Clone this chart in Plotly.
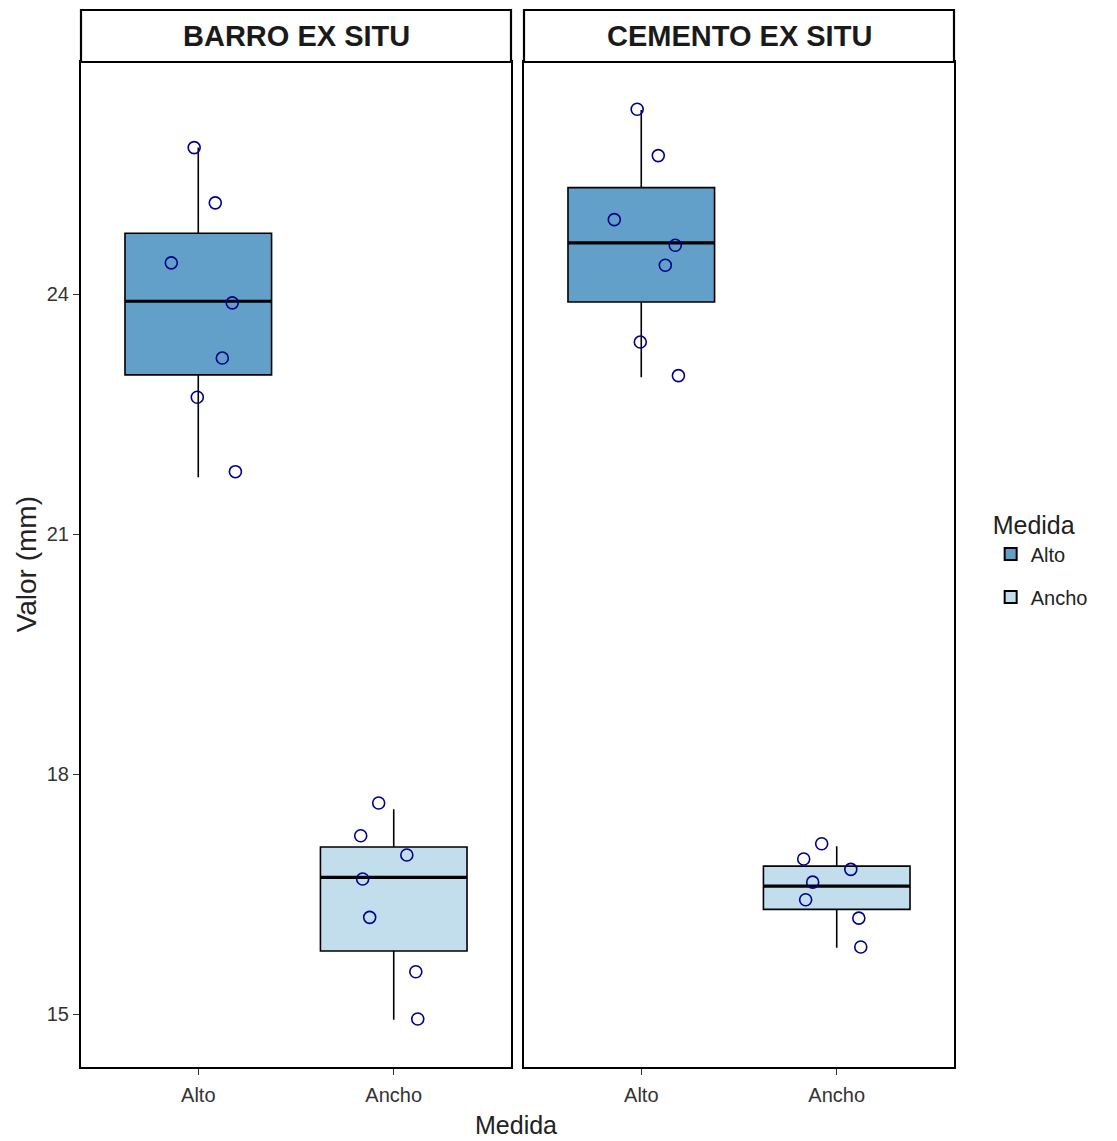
import plotly.graph_objects as go
from plotly.subplots import make_subplots

# ---------------- data ----------------
panels = ["BARRO EX SITU", "CEMENTO EX SITU"]
categories = ["Alto", "Ancho"]
cat_pos = [1, 2]

# observed points (mm) per panel, per category
barro_alto = [25.83, 25.14, 24.39, 23.89, 23.20, 22.71, 21.78]
barro_ancho = [17.64, 17.23, 16.99, 16.69, 16.21, 15.53, 14.94]
cemento_alto = [26.31, 25.73, 24.93, 24.61, 24.36, 23.40, 22.98]
cemento_ancho = [17.13, 16.94, 16.81, 16.65, 16.43, 16.20, 15.84]

# horizontal jitter offsets (category units)
jit_alto = [-0.021, 0.087, -0.138, 0.174, 0.123, -0.005, 0.19]
jit_ancho_barro = [-0.077, -0.169, 0.067, -0.159, -0.123, 0.113, 0.123]
jit_ancho_cemento = [-0.077, -0.169, 0.072, -0.123, -0.159, 0.113, 0.123]

# box statistics: [lower whisker, q1, median, q3, upper whisker]
box_barro_alto = [21.71, 22.99, 23.91, 24.76, 25.83]
box_barro_ancho = [14.93, 15.79, 16.71, 17.09, 17.56]
box_cemento_alto = [22.96, 23.90, 24.64, 25.33, 26.30]
box_cemento_ancho = [15.83, 16.31, 16.60, 16.85, 17.10]

y_ticks = [15, 18, 21, 24]

# ---------------- style ----------------
fill_colors = {"Alto": "#62A0CA", "Ancho": "#C2DDEB"}
point_color = "#00008B"
FONT = "Liberation Sans"
BOX_W = 0.75

fig = make_subplots(rows=1, cols=2, shared_yaxes=True, horizontal_spacing=13 / 873)

panel_data = [
    [(barro_alto, jit_alto, box_barro_alto), (barro_ancho, jit_ancho_barro, box_barro_ancho)],
    [(cemento_alto, jit_alto, box_cemento_alto), (cemento_ancho, jit_ancho_cemento, box_cemento_ancho)],
]

for pi, pdata in enumerate(panel_data):
    col = pi + 1
    for ci, (vals, jit, stats) in enumerate(pdata):
        cat = categories[ci]
        xc = cat_pos[ci]
        lo, q1, med, q3, hi = stats
        fig.add_trace(go.Box(
            x=[xc], q1=[q1], median=[med], q3=[q3], lowerfence=[lo], upperfence=[hi],
            width=BOX_W, whiskerwidth=0, fillcolor=fill_colors[cat],
            line=dict(color="black", width=1.6), boxpoints=False,
            name=cat, legendgroup=cat, showlegend=(pi == 0),
            hoverinfo="skip",
        ), row=1, col=col)
        # thicker median line (ggplot style)
        fig.add_trace(go.Scatter(
            x=[xc - BOX_W / 2, xc + BOX_W / 2], y=[med, med], mode="lines",
            line=dict(color="black", width=3.2), showlegend=False, hoverinfo="skip",
        ), row=1, col=col)
        # jittered points
        fig.add_trace(go.Scatter(
            x=[xc + j for j in jit], y=vals, mode="markers",
            marker=dict(symbol="circle-open", size=12, color=point_color,
                        line=dict(width=1.6, color=point_color)),
            showlegend=False, hoverinfo="skip",
        ), row=1, col=col)

axis_common = dict(
    showline=True, linecolor="black", linewidth=2.2, mirror=True,
    showgrid=False, zeroline=False, ticks="outside", ticklen=6,
    tickcolor="#333333", tickwidth=1.2,
    tickfont=dict(family=FONT, size=20, color="#333333"),
)

for i in (1, 2):
    fig.update_xaxes(range=[0.4, 2.6], tickvals=cat_pos, ticktext=categories,
                     ticklabelstandoff=3, row=1, col=i, **axis_common)
    fig.update_yaxes(range=[14.34, 26.9], tickvals=y_ticks, row=1, col=i, **axis_common)
fig.update_yaxes(showticklabels=False, ticks="", row=1, col=2)

# strips
strip_top = 1 + 52 / 1005
doms = [fig.layout.xaxis.domain, fig.layout.xaxis2.domain]
shapes = []
annotations = []
for name, dom in zip(panels, doms):
    shapes.append(dict(type="rect", xref="paper", yref="paper",
                       x0=dom[0], x1=dom[1], y0=1, y1=strip_top,
                       line=dict(color="black", width=2.2), fillcolor="white"))
    annotations.append(dict(text="<b>" + name + "</b>", xref="paper", yref="paper",
                            x=(dom[0] + dom[1]) / 2, y=(1 + strip_top) / 2,
                            xanchor="center", yanchor="middle", showarrow=False,
                            font=dict(family=FONT, size=29, color="#1A1A1A")))

annotations.append(dict(text="Medida", xref="paper", yref="paper", x=0.498, y=-0.058,
                        xanchor="center", yanchor="middle", showarrow=False,
                        font=dict(family=FONT, size=25, color="#222222")))
annotations.append(dict(text="Valor (mm)", xref="paper", yref="paper", x=-0.062, y=0.5,
                        xanchor="center", yanchor="middle", showarrow=False, textangle=-90,
                        font=dict(family=FONT, size=28, color="#222222")))

fig.update_layout(
    width=1117, height=1141,
    margin=dict(l=81, r=163, t=62, b=74),
    paper_bgcolor="white", plot_bgcolor="white",
    shapes=shapes, annotations=annotations,
    legend=dict(title=dict(text="Medida", font=dict(family=FONT, size=25, color="#222222")),
                font=dict(family=FONT, size=20, color="#222222"),
                x=1.042, xanchor="left", y=0.505, yanchor="middle",
                tracegroupgap=14, itemsizing="constant"),
)

fig.write_html("out.html")
